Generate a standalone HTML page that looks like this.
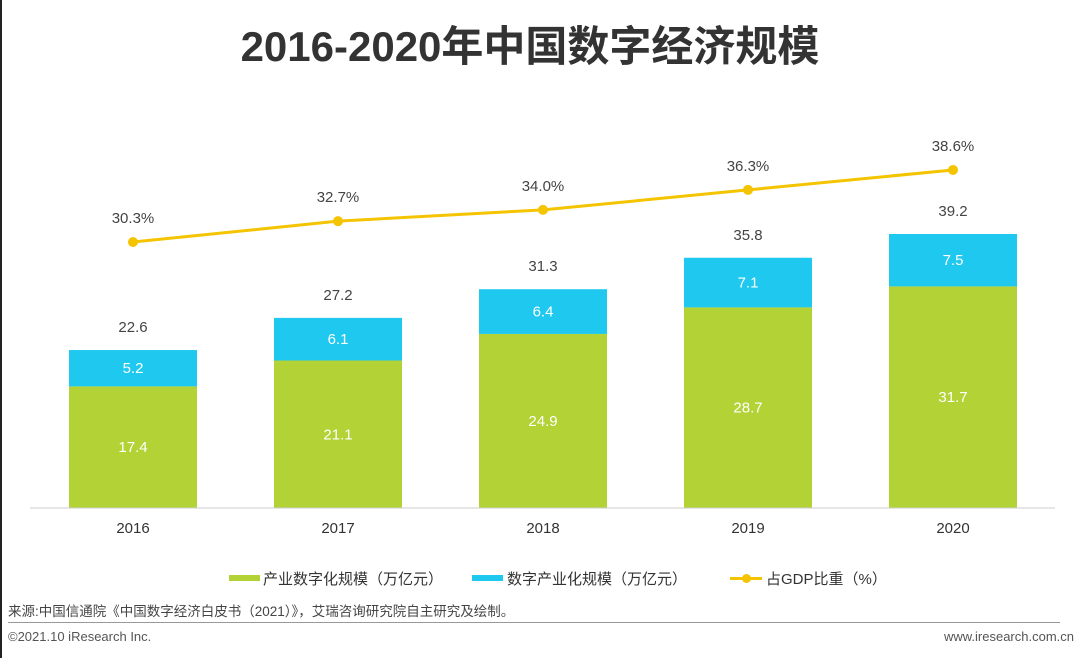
<!DOCTYPE html>
<html><head><meta charset="utf-8"><style>
body{margin:0;width:1080px;height:658px;background:#fff;overflow:hidden;font-family:"Liberation Sans","Noto Sans CJK SC",sans-serif;position:relative}
.t{position:absolute;white-space:nowrap}
</style></head><body>
<div style="position:absolute;left:0;top:0;width:2px;height:658px;background:#222"></div>
<div class="t" style="left:0;width:1060px;text-align:center;top:13px;font-size:42px;font-weight:bold;color:#333;font-family:'Liberation Sans','Noto Sans CJK SC',sans-serif">2016-2020年中国数字经济规模</div>
<svg id="chart" width="1080" height="560" style="position:absolute;left:0;top:0"></svg>
<div>
<div style="position:absolute;left:229px;top:575px;width:31px;height:6px;background:#b2d235"></div>
<div class="t" style="left:263px;top:568px;font-size:15px;color:#333">产业数字化规模（万亿元）</div>
<div style="position:absolute;left:472px;top:575px;width:31px;height:6px;background:#1fc8ef"></div>
<div class="t" style="left:507px;top:568px;font-size:15px;color:#333">数字产业化规模（万亿元）</div>
<div style="position:absolute;left:730px;top:577px;width:32px;height:3px;background:#f5c400"></div>
<div style="position:absolute;left:742px;top:574px;width:9px;height:9px;border-radius:50%;background:#f5c400"></div>
<div class="t" style="left:766px;top:568px;font-size:15px;color:#333">占GDP比重（%）</div>
</div>
<div class="t" style="left:8px;top:600px;font-size:13.5px;color:#444">来源:中国信通院《中国数字经济白皮书（2021）》，艾瑞咨询研究院自主研究及绘制。</div>
<div style="position:absolute;left:8px;top:622px;width:1052px;height:1px;background:#999"></div>
<div class="t" style="left:8px;top:629px;font-size:13px;color:#555">©2021.10 iResearch Inc.</div>
<div class="t" style="right:6px;top:629px;font-size:13px;color:#555">www.iresearch.com.cn</div>
<script>
const years=["2016","2017","2018","2019","2020"];
const industry=[17.4,21.1,24.9,28.7,31.7];
const digital=[5.2,6.1,6.4,7.1,7.5];
const totals=[22.6,27.2,31.3,35.8,39.2];
const gdpShare=[30.3,32.7,34.0,36.3,38.6];
const svg=document.getElementById('chart');
const NS='http://www.w3.org/2000/svg';
const base=508, ppu=6.99, x0=133, step=205, bw=128;
const xc=i=>x0+i*step;
const yv=v=>base-v*ppu;
const yp=p=>505-p*8.68;
function mk(tag,attrs){const e=document.createElementNS(NS,tag);for(const k in attrs)e.setAttribute(k,attrs[k]);svg.appendChild(e);return e;}
function txt(x,y,s,fill,size){const e=mk('text',{x:x,y:y,'text-anchor':'middle','font-size':size||15,fill:fill,'font-family':'Liberation Sans, Noto Sans CJK SC, sans-serif'});e.textContent=s;return e;}
years.forEach((yr,i)=>{
  const g=industry[i],b=digital[i],c=xc(i);
  const r1=mk('rect',{x:c-bw/2,y:yv(g),width:bw,height:g*ppu,fill:'#b2d235'});
  
  
  const r2=mk('rect',{x:c-bw/2,y:yv(g+b),width:bw,height:b*ppu,fill:'#1fc8ef'});
  
  
  const l1=txt(c,yv(g/2)+5,industry[i].toFixed(1),'#fff');
  
  
  const l2=txt(c,yv(g+b/2)+5,digital[i].toFixed(1),'#fff');
  
  
  const l3=txt(c,yv(totals[i])-18,totals[i].toFixed(1),'#444');
  
  
  const xl=txt(c,533,yr,'#333');
  
  
});
const ax=mk('line',{x1:30,y1:base,x2:1055,y2:base,stroke:'#ccc','stroke-width':1});


const pl=mk('polyline',{points:gdpShare.map((p,i)=>xc(i)+','+yp(p)).join(' '),fill:'none',stroke:'#f5c400','stroke-width':3});


gdpShare.forEach((p,i)=>{
  const d=mk('circle',{cx:xc(i),cy:yp(p),r:5,fill:'#f5c400'});
  
  
  const t=txt(xc(i),yp(p)-19,p.toFixed(1)+'%','#444');
  
  
});
</script>
</body></html>
